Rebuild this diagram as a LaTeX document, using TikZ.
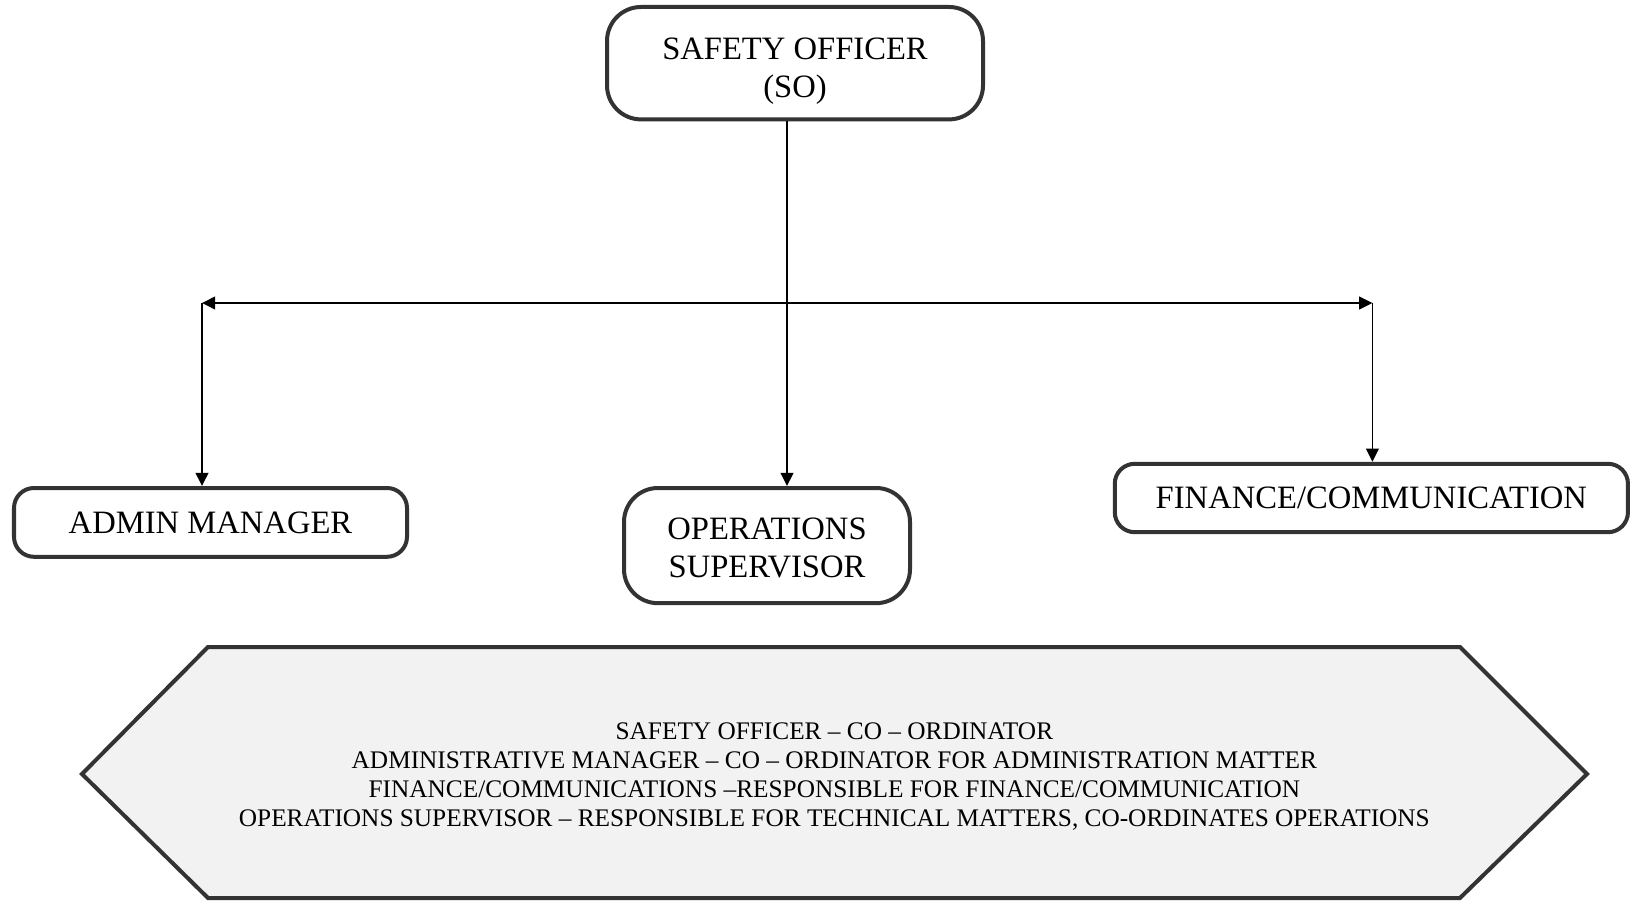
\documentclass[tikz,border=0pt]{standalone}
\usepackage{fontspec}
\setmainfont{Liberation Serif}
\usetikzlibrary{arrows.meta}
\usetikzlibrary{calc}
\definecolor{boxgray}{HTML}{333333}
\definecolor{notefill}{HTML}{F2F2F2}

\begin{document}
\begin{tikzpicture}[>/.tip={Triangle[length=0.33cm,width=0.32cm]},
	box/.style={draw=boxgray,line width=0.1cm,rounded corners=0.5cm,align=center,inner sep=0pt,font=\fontsize{23.2}{26.6}\selectfont},
	link/.style={line width=0.04cm}]
	\useasboundingbox (0,0) rectangle (40.775,-22.525);

	\draw (19.875,-1.58) node (so) [box,minimum width=9.4cm,minimum height=2.81cm,rounded corners=0.85cm] {\rule{0pt}{26.5pt}SAFETY OFFICER\\(SO)};
	\draw (5.2625,-13.06) node (admin) [box,minimum width=9.825cm,minimum height=1.72cm] {ADMIN MANAGER};
	\draw (19.175,-13.64) node (ops) [box,minimum width=7.15cm,minimum height=2.88cm,rounded corners=0.85cm,font=\fontsize{23.2}{27}\selectfont] {\rule{0pt}{19pt}OPERATIONS\\SUPERVISOR};
	\draw (34.284,-12.45) node (fin) [box,minimum width=12.83cm,minimum height=1.71cm] {FINANCE/COMMUNICATION};

	\coordinate (lt) at (5.05,-7.575);
	\coordinate (mid) at (19.675,-7.575);
	\coordinate (rt) at (34.31,-7.575);

	\draw[link,<->] (lt) -- (rt);
	\draw[link,->] (so.south -| mid) -- (mid |- ops.north);
	\draw[link,->] (lt) -- (lt |- admin.north);
	\draw[link,->] (rt) -- (rt |- fin.north);

	\draw[draw=boxgray,fill=notefill,line width=0.1cm,line join=miter] (2.05,-19.35) -- (5.2,-16.175) -- (36.5,-16.175) -- (39.675,-19.35) -- (36.5,-22.45) -- (5.2,-22.45) -- cycle;
	\node (notes) at (20.86,-19.405) [align=center,font=\fontsize{18}{20.6}\selectfont] {SAFETY OFFICER -- CO -- ORDINATOR\\ADMINISTRATIVE MANAGER -- CO -- ORDINATOR FOR ADMINISTRATION MATTER\\FINANCE/COMMUNICATIONS --RESPONSIBLE FOR FINANCE/COMMUNICATION\\OPERATIONS SUPERVISOR -- RESPONSIBLE FOR TECHNICAL MATTERS, CO-ORDINATES OPERATIONS};
\end{tikzpicture}
\end{document}
